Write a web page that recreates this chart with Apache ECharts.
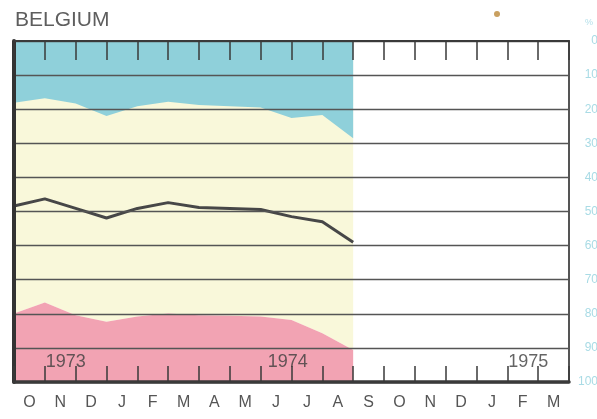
<!DOCTYPE html>
<html><head><meta charset="utf-8">
<script src="https://cdn.jsdelivr.net/npm/echarts@6/dist/echarts.min.js"></script>
<style>html,body{margin:0;padding:0;background:#fff}#c{width:597px;height:419px}</style>
</head><body><div id="c"></div>
<script>
// Month labels (Oct 1973 .. Mar 1975)
const months = ['O','N','D','J','F','M','A','M','J','J','A','S','O','N','D','J','F','M'];
// Shares (%) at month boundaries, Oct 1973 .. end Aug 1974 (0 at top, 100 at bottom)
const blueEdge = [18.1, 16.8, 18.3, 22.0, 19.1, 17.8, 18.8, 19.1, 19.5, 22.6, 21.7, 28.5];
const pinkEdge = [79.9, 76.7, 80.4, 82.3, 80.8, 79.9, 80.4, 80.6, 80.8, 81.8, 85.7, 90.6];
const lineVals = [48.4, 46.3, 49.1, 51.9, 49.1, 47.4, 48.8, 49.1, 49.4, 51.5, 53.0, 59.0];
// Year labels and the month boundary where each starts
const yearLabels = ['1973', '1974', '1975'];
const yearPos = [1, 8.2, 16];
const yearLevel = 94.1;

const chart = echarts.init(document.getElementById('c'), null, {renderer: 'canvas'});
const pts = arr => arr.map((v, i) => [i, v]);
const FONT = 'Liberation Sans, Arial, sans-serif';

const areaSeries = (name, data, color, origin, z) => ({
  name, type: 'line', xAxisIndex: 0, yAxisIndex: 1,
  data: pts(data), symbol: 'none', silent: true,
  lineStyle: {width: 0}, areaStyle: {color, opacity: 1, origin}, z
});

const tickAxis = (position, lineWidth, tickLen) => ({
  type: 'value', min: 0, max: months.length, interval: 1, position, z: 10,
  axisLine: {show: true, onZero: false, lineStyle: {color: '#3a3a3a', width: lineWidth}},
  axisTick: {show: true, inside: true, length: tickLen, lineStyle: {color: '#3a3a3a', width: 1.5}},
  axisLabel: {show: false}, splitLine: {show: false}
});

chart.setOption({
  animation: false,
  backgroundColor: '#ffffff',
  title: {text: 'BELGIUM', left: 10, top: 5,
    textStyle: {fontSize: 21, fontWeight: 'normal', color: '#5e5e5e', fontFamily: FONT}},
  grid: {left: 14, right: 28, top: 41, bottom: 37, containLabel: false, outerBoundsMode: 'none'},
  xAxis: [
    tickAxis('bottom', 3.5, 16),
    tickAxis('top', 2, 19),
    {type: 'category', data: months, position: 'bottom', boundaryGap: true, z: 10,
      axisLine: {show: false}, axisTick: {show: false},
      axisLabel: {margin: 13, fontSize: 16, color: '#555', fontFamily: FONT, interval: 0}}
  ],
  yAxis: [
    {type: 'value', inverse: true, min: 0, max: 100, interval: 10, position: 'left', z: 10,
      axisLine: {show: true, onZero: false, lineStyle: {color: '#333', width: 4}},
      axisTick: {show: false}, axisLabel: {show: false}, splitLine: {show: false}},
    {type: 'value', inverse: true, min: 0, max: 100, interval: 10, position: 'right', z: 10,
      axisLine: {show: true, onZero: false, lineStyle: {color: '#555', width: 2}},
      axisTick: {show: false},
      axisLabel: {align: 'right', margin: 29, fontSize: 12, color: '#a9dbe5', fontFamily: FONT},
      splitLine: {show: true, lineStyle: {color: '#555', width: 1.4}}}
  ],
  series: [
    areaSeries('middle', pinkEdge, '#f9f8da', 'start', 1),
    areaSeries('top', blueEdge, '#8fd0da', 'start', 2),
    areaSeries('bottom', pinkEdge, '#f2a3b3', 'end', 2),
    {name: 'index', type: 'line', xAxisIndex: 0, yAxisIndex: 1, data: pts(lineVals),
      symbol: 'none', lineStyle: {color: '#474747', width: 3}, z: 4},
    {name: 'years', type: 'scatter', xAxisIndex: 0, yAxisIndex: 1, symbolSize: 0, z: 12,
      data: yearPos.map((x, i) => [x, yearLevel, yearLabels[i]]),
      label: {show: true, position: 'right', distance: 1, formatter: p => p.value[2],
        fontSize: 18, color: '#3d3d3d', fontFamily: FONT}}
  ],
  graphic: [
    {type: 'text', left: 585, top: 18, style: {text: '%', fontSize: 9, fill: '#b5e0ea', fontFamily: FONT}},
    {type: 'circle', shape: {cx: 497, cy: 14, r: 3}, style: {fill: '#c9a060'}}
  ]
});
</script></body></html>
